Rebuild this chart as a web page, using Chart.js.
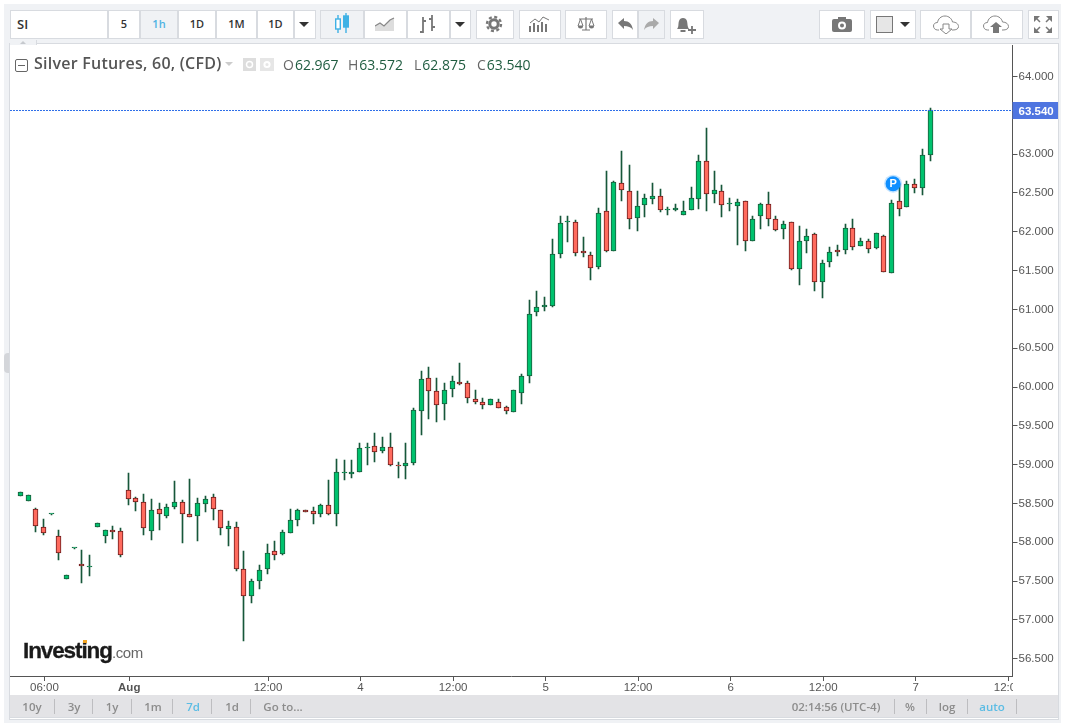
<!DOCTYPE html>
<html>
<head>
<meta charset="utf-8">
<title>Silver Futures, 60, (CFD)</title>
<script src="https://cdn.jsdelivr.net/npm/chart.js@4"></script>
<style>
  html, body { margin: 0; padding: 0; background: #fff; width: 1068px; height: 726px; overflow: hidden; }
  #page { position: absolute; left: 4px; top: 4px; width: 1057px; height: 719px; background: #f0f2f5; }
  #frame { position: absolute; left: 10px; top: 44px; width: 1048px; height: 675px; background: #fff; box-sizing: border-box; outline: 1px solid #d8dbe0; }
  canvas { position: absolute; left: 10px; top: 45px; }
  .box { position: absolute; top: 10px; height: 29px; box-sizing: border-box; background: #fff; border: 1px solid #d8dbe0; text-align: center; font: 600 11px/26px "Open Sans", sans-serif; color: #333; }
  .box.active { background: #f0f2f5; color: #4fb2e3; }
  .abs { position: absolute; white-space: nowrap; }
  #readout span { position: absolute; top: 55px; font: 14px/20px "Open Sans", sans-serif; color: #1f5c40; white-space: nowrap; }
  #readout span b { font-weight: 400; color: #666; margin-right: 1px; }
  #bottombar { position: absolute; left: 10px; top: 695px; width: 1048px; height: 23px; background: #e3e3e6; border-bottom: 1px solid #d8dbe0; box-sizing: border-box; }
  .bb { position: absolute; top: 700px; font: 600 11.5px/14px "Open Sans", sans-serif; color: #8c8c8c; transform: translateX(-50%); white-space: nowrap; }
  .bb.blue { color: #5bbce4; }
  .sep { position: absolute; top: 699px; width: 1px; height: 15px; background: #bdbdc0; }
  svg { position: absolute; }
</style>
</head>
<body>
<div id="page"></div>
<div id="frame"></div>
<div id="toolbar"></div>
<canvas id="chart" width="1048" height="650"></canvas>
<div class="abs" style="left:1013px;top:677px;width:45px;height:18px;background:#fff"></div>
<div class="abs" style="left:10px;top:40px;width:26px;height:5px;background:#f0f2f5;border-right:1px solid #d8dbe0"></div>
<div class="abs" style="left:20px;top:41px;border:3px solid transparent;border-top:0;border-bottom:3px solid #c6c9ce"></div>
<div class="abs" style="left:4px;top:353px;width:5px;height:20px;background:#d4d6da;border-radius:4px 0 0 4px"></div>

<div class="abs" style="left:15px;top:59px;width:11px;height:11px;border:1px solid #666;border-radius:2px;box-sizing:content-box"><div style="margin:5px 2px 0;height:1px;background:#666"></div></div>
<div class="abs" style="left:34px;top:52px;font:600 16px/22px 'Open Sans',sans-serif;letter-spacing:.24px;color:#555">Silver Futures, 60, (CFD)</div>
<div class="abs" style="left:225px;top:62px;border:4px solid transparent;border-bottom:0;border-top:4px solid #ccc"></div>
<div class="abs" style="left:243px;top:58px;width:13px;height:13px;background:#ddd"></div>
<div class="abs" style="left:260px;top:58px;width:14px;height:13px;background:#e6e6e6"></div>
<svg style="left:243px;top:58px" width="13" height="13"><circle cx="6.5" cy="6.5" r="3" fill="none" stroke="#fff" stroke-width="1.5"/></svg>
<svg style="left:260px;top:58px" width="14" height="13"><circle cx="7" cy="6.5" r="2.6" fill="none" stroke="#fff" stroke-width="2"/></svg>
<div id="readout"></div>

<div class="abs" style="left:23px;top:636px;font:bold 22.5px/30px 'Liberation Sans',sans-serif;letter-spacing:-1.1px;color:#1a1a1a;-webkit-text-stroke:.3px #1a1a1a">Investing<span style="font:15px/30px 'Liberation Sans',sans-serif;letter-spacing:-.35px;color:#666;-webkit-text-stroke:0">.com</span></div>
<div class="abs" style="left:83px;top:640px;width:4px;height:3px;background:#f5a623"></div>

<div id="bottombar"></div>
<div id="bottomtext"></div>

<script>
// values, one entry per hourly bar
const opens = [58.592,58.527,58.424,58.192,58.360,58.076,57.522,57.921,57.716,57.676,58.200,58.084,58.154,58.140,58.669,58.566,58.514,58.140,58.424,58.334,58.450,58.514,58.360,58.334,58.489,58.579,58.411,58.166,58.192,57.651,57.303,57.496,57.651,57.883,57.844,58.115,58.282,58.411,58.398,58.360,58.476,58.360,58.888,58.875,58.901,59.218,59.236,59.172,59.223,58.996,58.978,59.017,59.687,60.113,59.945,59.778,59.971,60.062,60.048,59.842,59.803,59.765,59.803,59.739,59.674,59.919,60.139,60.964,61.028,61.041,61.710,62.130,62.123,61.749,61.697,61.543,62.264,61.749,62.625,62.522,62.174,62.342,62.419,62.458,62.277,62.277,62.213,62.277,62.419,62.909,62.483,62.522,62.362,62.329,62.393,61.878,62.200,62.355,62.161,62.032,62.123,61.517,61.878,61.968,61.349,61.607,61.759,61.762,62.045,61.813,61.878,61.787,61.942,61.465,62.393,62.316,62.612,62.561,62.986];
const highs = [58.643,58.605,58.441,58.295,58.360,58.157,57.581,57.921,57.896,57.831,58.244,58.153,58.209,58.179,58.892,58.579,58.617,58.553,58.501,58.489,58.785,58.540,58.811,58.566,58.592,58.617,58.411,58.269,58.257,57.883,57.522,57.702,57.973,58.012,58.153,58.424,58.424,58.411,58.450,58.489,58.798,59.069,59.056,59.056,59.275,59.275,59.404,59.352,59.404,59.030,59.275,59.726,60.203,60.255,60.113,60.048,60.139,60.306,60.074,59.958,59.855,59.842,59.842,59.752,59.958,60.164,61.118,61.234,61.157,61.903,62.200,62.200,62.148,61.929,61.736,62.303,62.780,62.651,63.038,62.857,62.522,62.483,62.625,62.548,62.316,62.355,62.393,62.574,62.986,63.333,62.780,62.599,62.432,62.419,62.393,62.200,62.367,62.509,62.200,62.135,62.123,62.071,62.032,61.981,61.633,61.800,61.826,62.097,62.161,61.916,61.903,61.981,61.955,62.406,62.612,62.651,62.677,63.063,63.592];
const lows = [58.592,58.527,58.135,58.097,58.360,57.774,57.522,57.921,57.478,57.568,58.200,57.994,58.041,57.813,58.483,58.406,58.097,58.032,58.161,58.316,58.432,57.986,58.321,58.012,58.385,58.290,58.097,57.955,57.625,56.723,57.220,57.393,57.586,57.767,57.831,58.115,58.205,58.393,58.231,58.321,58.347,58.205,58.798,58.831,58.901,58.991,59.038,59.146,58.978,58.824,58.811,58.991,59.378,59.584,59.546,59.571,59.868,60.022,59.790,59.778,59.713,59.765,59.726,59.649,59.674,59.778,60.048,60.912,60.976,61.028,61.659,61.865,61.684,61.671,61.375,61.517,61.736,61.749,62.393,62.032,62.007,62.187,62.355,62.252,62.213,62.264,62.213,62.277,62.290,62.264,62.367,62.187,62.264,61.826,61.749,61.878,62.032,62.071,62.007,61.903,61.504,61.310,61.723,61.241,61.153,61.543,61.684,61.710,61.762,61.813,61.723,61.775,61.478,61.465,62.200,62.316,62.506,62.471,62.909];
const closes = [58.643,58.605,58.205,58.115,58.360,57.857,57.581,57.921,57.696,57.676,58.244,58.153,58.134,57.839,58.561,58.522,58.179,58.411,58.360,58.450,58.514,58.360,58.321,58.501,58.553,58.424,58.179,58.205,57.651,57.303,57.496,57.638,57.857,57.831,58.128,58.282,58.411,58.393,58.360,58.476,58.360,58.901,58.888,58.901,59.210,59.218,59.159,59.223,58.991,58.976,59.017,59.700,60.100,59.945,59.765,59.958,60.074,60.042,59.855,59.803,59.765,59.842,59.726,59.687,59.958,60.139,60.938,61.028,61.054,61.710,62.110,62.130,61.723,61.723,61.530,62.239,61.749,62.638,62.535,62.161,62.329,62.432,62.458,62.277,62.277,62.303,62.264,62.432,62.909,62.483,62.535,62.342,62.362,62.380,61.878,62.161,62.355,62.161,62.020,62.097,61.517,61.878,61.942,61.349,61.594,61.736,61.739,62.045,61.800,61.878,61.775,61.981,61.478,62.367,62.290,62.612,62.561,62.986,63.566];

const priceTicks = [56.5,57,57.5,58,58.5,59,59.5,60,60.5,61,61.5,62,62.5,63,63.5,64];
const timeTickBars = [3.13,14.13,32.13,44.13,56.13,68.13,80.13,92.13,104.13,116.13,128.13];
const timeTickLabels = ['06:00','Aug','12:00','4','12:00','5','12:00','6','12:00','7','12:00'];
const ohlcLabels = ['O','H','L','C'];
const ohlcValues = ['62.967','63.572','62.875','63.540'];
const lastPriceLabel = '63.540';
const markerBar = [113.2];
const markerPrice = [62.62];

const ranges = ['10y','3y','1y','1m','7d','1d','Go to...'];

const UP_FILL = '#00c26e', UP_EDGE = '#1a5c3c', DOWN_FILL = '#ff6b5e', DOWN_EDGE = '#6f1c1c', WICK = '#17573a';

// ---- toolbar and bottom bar, plain DOM ----
function box(x0, x1, label, active) {
    const d = document.createElement('div');
    d.className = 'box' + (active ? ' active' : '');
    d.style.left = x0 + 'px';
    d.style.width = (x1 - x0) + 'px';
    d.textContent = label || '';
    document.getElementById('toolbar').appendChild(d);
}
function icon(cx, cy, w, h, inner) {
    const holder = document.createElement('div');
    holder.innerHTML = `<svg style="left:${cx - w / 2}px;top:${cy - h / 2}px" width="${w}" height="${h}" viewBox="0 0 ${w} ${h}">${inner}</svg>`;
    document.getElementById('toolbar').appendChild(holder.firstChild);
}
function caret(cx) {
    icon(cx, 24, 10, 5, '<path d="M0 0h10L5 5z" fill="#333"/>');
}
const gearSvg = (c) => `<circle cx="9" cy="9" r="4.2" fill="none" stroke="${c}" stroke-width="3"/><circle cx="9" cy="9" r="7" fill="none" stroke="${c}" stroke-width="2.4" stroke-dasharray="3 2.5"/>`;

[[10,108,''],[108,140,'5'],[140,178,'1h',true],[178,216,'1D'],[216,257,'1M'],[257,294,'1D'],[294,316,''],
 [320,364,'',true],[364,407,''],[407,450,''],[450,471,''],[476,514,''],[519,561,''],[565,607,''],
 [612,638,''],[638,665,'',true],[670,704,''],[819,865,''],[870,916,''],[920,971,''],[971,1023,''],[1028,1059,'']]
    .forEach(b => box(b[0], b[1], b[2], b[3]));
const si = document.createElement('div');
si.className = 'abs';
si.style.cssText = 'left:17px;top:14px;font:600 13px/20px "Open Sans",sans-serif;color:#333';
si.textContent = 'SI';
document.getElementById('toolbar').appendChild(si);

caret(304); caret(460); caret(905);
icon(342, 24, 16, 22, '<g stroke="#3fb1e5" stroke-width="1.4" fill="none"><path d="M4 2v18M12 0v20"/><rect x="1.7" y="6" width="4.6" height="10" fill="#fff"/><rect x="9.7" y="3" width="4.6" height="11" fill="#3fb1e5"/></g>');
icon(385, 24, 20, 15, '<path d="M0 9l5-3 4 3 6-6 4-2v13H0z" fill="#ddd"/><path d="M0 9l5-3 4 3 6-6 4-2" fill="none" stroke="#888" stroke-width="1.3"/>');
icon(428, 24, 18, 20, '<path d="M4 3v16M1 18h3M4 7h3M13 1v16M10 5h3M13 13h3" stroke="#777" stroke-width="1.8" fill="none"/>');
icon(494, 24, 18, 18, gearSvg('#777'));
icon(540, 24, 22, 16, '<path d="M1 16v-6M5 16V7M9 16V9M13 16V6M17 16V8" stroke="#777" stroke-width="2"/><path d="M1 7l5-4 4 3 4-5 6 3" fill="none" stroke="#777"/>');
icon(586, 24, 18, 16, '<path d="M9 1v13M2 3h14M5 14h8" stroke="#777" stroke-width="1.2"/><path d="M1 10l2.5-7L6 10zM12 10l2.5-7 2.5 7z" fill="none" stroke="#777"/><path d="M1 10a2.5 2.5 0 0 0 5 0zM12 10a2.5 2.5 0 0 0 5 0z" fill="#777"/>');
icon(625, 24, 15, 12, '<path d="M0 5l6-5v3c5 0 8 3 9 9-2-3-5-4-9-4v3z" fill="#777"/>');
icon(651, 24, 15, 12, '<path d="M15 5L9 0v3C4 3 1 6 0 12c2-3 5-4 9-4v3z" fill="#aaa"/>');
icon(686, 25, 20, 18, '<path d="M1 13c2-2 1-5 2-8 .6-2 2-3 4-3s3.400 1 4 3c.7 3 .3 6 2 8z" fill="#777"/><path d="M4.500 15h5" stroke="#777" stroke-width="2"/><path d="M16 10v8M12 14h8" stroke="#777" stroke-width="1.800"/>');
icon(842, 24, 20, 15, '<rect x="0" y="2" width="20" height="13" rx="2" fill="#777"/><rect x="6" y="0" width="8" height="4" fill="#777"/><circle cx="10" cy="8.500" r="3" fill="none" stroke="#fff" stroke-width="2"/>');
icon(884, 24, 17, 17, '<rect x=".5" y=".5" width="16" height="16" fill="#e6e6e6" stroke="#777"/>');
const cloud = '<path d="M6 15H4.500C2 15 .5 13 .5 11S2 7.500 4.500 7.500C5 4 8 1 12 1s7 3 7.500 6C23 7 25.500 9 25.500 11.500S23 15 20 15h-1" fill="none" stroke="#888"/>';
icon(946, 24, 26, 19, cloud + '<path d="M10 9h6v5h3l-6 5-6-5h3z" fill="#fff" stroke="#888"/>');
icon(996, 24, 26, 19, cloud + '<path d="M13 7l6 5h-3v6h-6v-6H7z" fill="#777"/>');
icon(1043, 24, 18, 17, '<g fill="#777"><path d="M0 0h6L0 6zM18 0v6l-6-6zM0 17v-6l6 6zM18 17h-6l6-6z"/></g><path d="M2 2l4 4M16 2l-4 4M2 15l4-4M16 15l-4-4" stroke="#777" stroke-width="1.500"/>');

const readoutX = [283, 348, 414, 477];
ohlcLabels.forEach((lab, i) => {
    const s = document.createElement('span');
    s.style.left = readoutX[i] + 'px';
    s.innerHTML = `<b>${lab}</b>${ohlcValues[i]}`;
    document.getElementById('readout').appendChild(s);
});

const bottom = document.getElementById('bottomtext');
function bb(cx, text, blue) {
    const d = document.createElement('div');
    d.className = 'bb' + (blue ? ' blue' : '');
    d.style.left = cx + 'px';
    d.textContent = text;
    bottom.appendChild(d);
}
function sep(x) {
    const d = document.createElement('div');
    d.className = 'sep';
    d.style.left = x + 'px';
    bottom.appendChild(d);
}
const rangeX = [32, 74, 112, 153, 193, 232, 283];
ranges.forEach((r, i) => bb(rangeX[i], r, r === '7d'));
[54, 92, 131, 172, 211, 250, 894, 926, 967, 1016].forEach(sep);
bb(836, '02:14:56 (UTC-4)');
bb(910, '%');
bb(947, 'log');
bb(992, 'auto', true);
icon(1037, 707, 14, 14, '<g transform="scale(.78)">' + gearSvg('#8c8c8c') + '</g>');

// ---- chart ----
const barIndex = opens.map((_, i) => i);
const isUp = i => closes[i] >= opens[i];

// the platform draws on whole pixels, so snap the bar elements the same way
const snapBars = {
    id: 'snapBars',
    afterDatasetsUpdate(chart) {
        chart.data.datasets.forEach((ds, d) => {
            chart.getDatasetMeta(d).data.forEach(el => {
                el.x = Math.floor(el.x) + 0.5;
                el.y = Math.round(el.y);
                el.base = Math.round(el.base);
                if (Math.abs(el.base - el.y) < 1) el.base = el.y + 1;
            });
        });
    }
};

const overlays = {
    id: 'overlays',
    afterDatasetsDraw(chart) {
        const { ctx, chartArea, scales } = chart;
        const y = Math.round(scales.y.getPixelForValue(closes[closes.length - 1])) + 0.5;
        ctx.save();
        ctx.strokeStyle = '#2f6fe8';
        ctx.setLineDash([2, 1]);
        ctx.lineWidth = 1;
        ctx.beginPath();
        ctx.moveTo(chartArea.left, y);
        ctx.lineTo(chartArea.right, y);
        ctx.stroke();
        ctx.setLineDash([]);

        // last price tag
        ctx.fillStyle = '#4f75e0';
        ctx.fillRect(chartArea.right, y - 8.5, chart.width - chartArea.right, 17);
        ctx.fillStyle = '#fff';
        ctx.font = 'bold 11.5px "Liberation Sans"';
        ctx.textAlign = 'left';
        ctx.textBaseline = 'middle';
        ctx.fillText(lastPriceLabel, chartArea.right + 6, y + 1);

        // position marker
        const mx = scales.x.getPixelForValue(markerBar[0]);
        const my = scales.y.getPixelForValue(markerPrice[0]);
        ctx.fillStyle = 'rgba(15,143,255,0.25)';
        ctx.beginPath();
        ctx.arc(mx, my, 9, 0, Math.PI * 2);
        ctx.fill();
        ctx.fillStyle = '#0f8fff';
        ctx.beginPath();
        ctx.arc(mx, my, 7.5, 0, Math.PI * 2);
        ctx.fill();
        ctx.fillStyle = '#fff';
        ctx.font = 'bold 11px "Liberation Sans"';
        ctx.textAlign = 'center';
        ctx.fillText('P', mx, my + 0.5);
        ctx.restore();
    }
};

new Chart(document.getElementById('chart').getContext('2d'), {
    type: 'bar',
    plugins: [snapBars, overlays],
    data: {
        datasets: [{
            // bodies come first so they draw over the wicks
            data: barIndex.map(i => ({ x: i, y: [opens[i], closes[i]] })),
            barThickness: 5,
            minBarLength: 1,
            borderWidth: 1,
            borderSkipped: false,
            backgroundColor: barIndex.map(i => isUp(i) ? UP_FILL : DOWN_FILL),
            borderColor: barIndex.map(i => isUp(i) ? UP_EDGE : DOWN_EDGE)
        }, {
            data: barIndex.map(i => ({ x: i, y: [lows[i], highs[i]] })),
            barThickness: 1,
            borderWidth: 0,
            backgroundColor: WICK
        }]
    },
    options: {
        responsive: false,
        animation: false,
        events: [],
        devicePixelRatio: 1,
        datasets: { bar: { grouped: false } },
        layout: { padding: 0 },
        plugins: { legend: { display: false }, tooltip: { enabled: false } },
        scales: {
            x: {
                type: 'linear',
                offset: false,
                min: -1.336,
                max: 128.69,
                grid: { offset: false, drawOnChartArea: false, tickLength: 5, tickColor: '#555' },
                border: { color: '#555', width: 1 },
                afterBuildTicks: s => { s.ticks = timeTickBars.map(v => ({ value: v })); },
                afterFit: s => { s.height = 19; s.paddingLeft = 0; s.paddingRight = 0; },
                ticks: {
                    autoSkip: false,
                    maxRotation: 0,
                    padding: 0,
                    color: '#555',
                    font: ctx => ({ family: '"Liberation Sans"', size: 11.5, weight: ctx.tick && ctx.tick.value === timeTickBars[1] ? 'bold' : 'normal' }),
                    callback: v => timeTickLabels[timeTickBars.indexOf(v)]
                }
            },
            y: {
                position: 'right',
                beginAtZero: false,
                min: 56.276,
                max: 64.407,
                grid: { drawOnChartArea: false, tickLength: 5, tickColor: '#555' },
                border: { color: '#555', width: 1 },
                afterBuildTicks: s => { s.ticks = priceTicks.map(v => ({ value: v })); },
                afterFit: s => { s.width = 45.5; s.paddingTop = 0; s.paddingBottom = 0; },
                ticks: {
                    padding: 1,
                    color: '#555',
                    font: { family: '"Liberation Sans"', size: 11.5 },
                    callback: v => v.toFixed(3)
                }
            }
        }
    }
});
</script>
</body>
</html>
